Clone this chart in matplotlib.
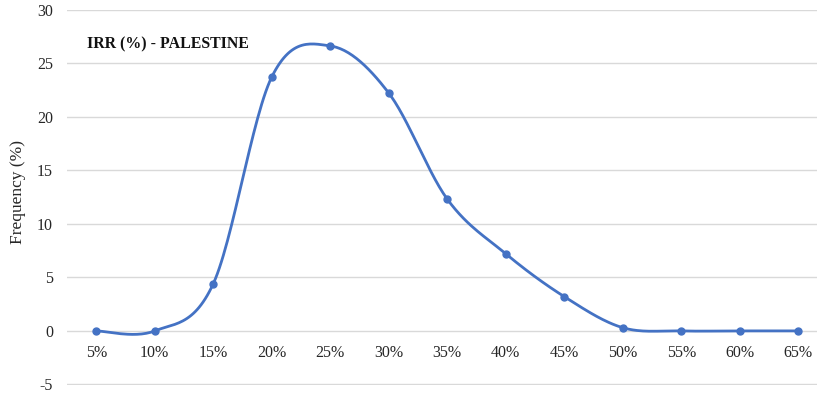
import numpy as np
import matplotlib.pyplot as plt

categories = ['5%', '10%', '15%', '20%', '25%', '30%', '35%', '40%', '45%', '50%', '55%', '60%', '65%']
frequency = [0, 0, 4.4, 23.7, 26.6, 22.2, 12.3, 7.2, 3.2, 0.3, 0, 0, 0]
y_ticks = [-5, 0, 5, 10, 15, 20, 25, 30]

plt.rcParams['font.family'] = ['Liberation Serif', 'DejaVu Serif']
plt.rcParams['axes.unicode_minus'] = False


def smooth(xs, ys, n=30):
    # catmull-rom style curve through the points (like spreadsheet smoothing)
    xs = np.asarray(xs, float)
    ys = np.asarray(ys, float)
    px = np.concatenate([[xs[0]], xs, [xs[-1]]])
    py = np.concatenate([[ys[0]], ys, [ys[-1]]])
    out_x, out_y = [], []
    t = np.linspace(0, 1, n)
    for i in range(1, len(px) - 2):
        x0, x1, x2, x3 = px[i - 1:i + 3]
        y0, y1, y2, y3 = py[i - 1:i + 3]
        # bezier control points, tension 1/6
        c1x, c1y = x1 + (x2 - x0) / 6, y1 + (y2 - y0) / 6
        c2x, c2y = x2 - (x3 - x1) / 6, y2 - (y3 - y1) / 6
        bx = (1 - t) ** 3 * x1 + 3 * (1 - t) ** 2 * t * c1x + 3 * (1 - t) * t ** 2 * c2x + t ** 3 * x2
        by = (1 - t) ** 3 * y1 + 3 * (1 - t) ** 2 * t * c1y + 3 * (1 - t) * t ** 2 * c2y + t ** 3 * y2
        out_x.extend(bx)
        out_y.extend(by)
    return np.array(out_x), np.array(out_y)


fig = plt.figure(figsize=(8.17, 3.93), dpi=100)
ax = fig.add_axes([67 / 817, 8 / 393, 750 / 817, 375.5 / 393])

x = np.arange(len(categories))
sx, sy = smooth(x, frequency)
ax.plot(sx, sy, color='#4472C4', lw=2.0, zorder=3, solid_capstyle='round')
ax.plot(x, frequency, 'o', color='#4472C4', ms=5, zorder=4)

ax.set_xlim(-0.5, 12.32)
ax.set_ylim(-5.05, 30)
ax.set_yticks(y_ticks)
ax.set_xticks(x)
ax.set_xticklabels(categories)
ax.grid(axis='y', color='#d9d9d9', lw=1)
ax.set_axisbelow(True)
for s in ax.spines.values():
    s.set_visible(False)
ax.spines['bottom'].set_position(('data', 0))
ax.tick_params(length=0, labelsize=11.5, colors='#262626')
ax.tick_params(axis='x', pad=10)
ax.tick_params(axis='y', pad=10)
ax.set_ylabel('Frequency (%)', fontsize=12.5, color='#262626')
ax.yaxis.set_label_coords(-0.055, 0.514)

ax.text(0.027, 0.907, 'IRR (%) - PALESTINE', transform=ax.transAxes,
        fontsize=11.4, fontweight='bold', va='center', ha='left', color='#111111')

fig.savefig('out.png', dpi=100)
